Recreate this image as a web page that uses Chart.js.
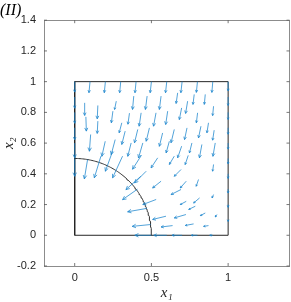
<!DOCTYPE html>
<html>
<head>
<meta charset="utf-8">
<script src="https://cdn.jsdelivr.net/npm/chart.js@4.4.1/dist/chart.umd.min.js"></script>
<style>
  html, body { margin: 0; padding: 0; background: #fff; }
</style>
</head>
<body>
<canvas id="quiverChart" width="291" height="302"></canvas>
<script>
// Arrows sitting on the edges of the unit square (tail x1, tail x2, components u, v)
const edgeX = [0, 0.1, 0.2, 0.3, 0.4, 0.5, 0.6, 0.7, 0.8, 0.9, 1,
  0, 0, 0, 0, 0,
  1, 1, 1, 1, 1, 1, 1, 1, 1,
  0.5, 0.6, 0.7, 0.8, 0.9];
const edgeY = [1, 1, 1, 1, 1, 1, 1, 1, 1, 1, 1,
  0.9, 0.8, 0.7, 0.6, 0.5,
  0.9, 0.8, 0.7, 0.6, 0.5, 0.4, 0.3, 0.2, 0.1,
  0, 0, 0, 0, 0];
const edgeU = [0, -0.007, -0.007, -0.007, -0.007, -0.008, -0.008, -0.008, -0.007, -0.006, 0,
  0, 0, 0, 0, 0,
  0, 0, 0, 0, 0, 0, 0, 0, 0,
  -0.108, -0.085, -0.066, -0.04, -0.02];
const edgeV = [-0.068, -0.072, -0.072, -0.072, -0.072, -0.072, -0.072, -0.072, -0.07, -0.07, -0.06,
  -0.073, -0.071, -0.078, -0.096, -0.116,
  -0.055, -0.046, -0.042, -0.039, -0.035, -0.03, -0.025, -0.018, -0.01,
  0, 0, 0, 0, 0];

// Arrows inside the domain
const fieldX = [0.065, 0.151, 0.271, 0.073, 0.151, 0.249, 0.307, 0.104, 0.199, 0.264,
  0.329, 0.385, 0.472, 0.563, 0.671, 0.357, 0.433, 0.530, 0.606, 0.697,
  0.411, 0.487, 0.573, 0.649, 0.368, 0.444, 0.617, 0.697, 0.779, 0.851,
  0.736, 0.905, 0.801, 0.872, 0.732, 0.823, 0.764, 0.829, 0.916, 0.909,
  0.740, 0.905, 0.807, 0.727, 0.905, 0.814, 0.727, 0.786, 0.851, 0.927,
  0.775, 0.872, 0.435, 0.541, 0.649, 0.466, 0.563, 0.693, 0.409, 0.531,
  0.693, 0.470, 0.595, 0.725, 0.495, 0.638, 0.084, 0.171, 0.247, 0.312,
  0.431];
const fieldY = [0.862, 0.845, 0.873, 0.771, 0.743, 0.808, 0.732, 0.656, 0.612, 0.623,
  0.678, 0.906, 0.906, 0.906, 0.927, 0.795, 0.797, 0.797, 0.808, 0.829,
  0.689, 0.699, 0.666, 0.689, 0.601, 0.601, 0.612, 0.580, 0.917, 0.917,
  0.873, 0.840, 0.797, 0.732, 0.699, 0.710, 0.601, 0.591, 0.601, 0.684,
  0.520, 0.461, 0.363, 0.352, 0.265, 0.243, 0.221, 0.189, 0.145, 0.135,
  0.074, 0.063, 0.521, 0.504, 0.515, 0.417, 0.352, 0.428, 0.300, 0.233,
  0.298, 0.175, 0.124, 0.135, 0.070, 0.063, 0.493, 0.515, 0.547, 0.515,
  0.384];
const fieldU = [0, -0.004, -0.011, 0.003, -0.004, -0.010, -0.017, -0.008, -0.022, -0.026,
  -0.022, -0.008, -0.011, -0.011, -0.010, -0.010, -0.013, -0.016, -0.013, -0.015,
  -0.021, -0.021, -0.021, -0.021, -0.022, -0.028, -0.021, -0.026, -0.008, -0.006,
  -0.013, -0.006, -0.008, -0.010, -0.016, -0.016, -0.016, -0.016, -0.015, -0.010,
  -0.020, -0.006, -0.015, -0.039, -0.010, -0.039, -0.039, -0.043, -0.032, -0.011,
  -0.054, -0.032, -0.058, -0.043, -0.032, -0.076, -0.055, -0.044, -0.097, -0.087,
  -0.065, -0.125, -0.087, -0.076, -0.120, -0.075, -0.021, -0.043, -0.047, -0.065,
  -0.097];
const fieldV = [-0.082, -0.087, -0.054, -0.093, -0.080, -0.076, -0.065, -0.109, -0.098, -0.098,
  -0.087, -0.087, -0.087, -0.087, -0.069, -0.072, -0.087, -0.087, -0.087, -0.076,
  -0.087, -0.087, -0.087, -0.087, -0.087, -0.098, -0.076, -0.076, -0.065, -0.065,
  -0.080, -0.061, -0.065, -0.065, -0.076, -0.076, -0.065, -0.087, -0.087, -0.065,
  -0.060, -0.044, -0.044, -0.044, -0.022, -0.033, -0.021, -0.021, -0.017, -0.016,
  -0.010, -0.005, -0.091, -0.065, -0.054, -0.076, -0.044, -0.044, -0.068, -0.033,
  -0.033, -0.022, -0.021, -0.022, -0.012, -0.009, -0.126, -0.141, -0.130, -0.141,
  -0.087];

// square outline and the quarter circle
const boxX = [0, 1, 1, 0, 0];
const boxY = [0, 0, 1, 1, 0];
const arcRadius = 0.5;

const xTickValues = [0, 0.5, 1];
const yTickValues = [-0.2, 0, 0.2, 0.4, 0.6, 0.8, 1, 1.2, 1.4];

const arrowsX = edgeX.concat(fieldX);
const arrowsY = edgeY.concat(fieldY);
const arrowsU = edgeU.concat(fieldU);
const arrowsV = edgeV.concat(fieldV);

const arcPoints = [];
for (let i = 0; i <= 90; i++) {
  const t = (i / 90) * Math.PI / 2;
  arcPoints.push({ x: arcRadius * Math.cos(t), y: arcRadius * Math.sin(t) });
}

const fmt = (v) => String(Math.round(v * 10) / 10);

// draws the quiver arrows with the chart scales
const quiverPlugin = {
  id: "quiver",
  afterDatasetsDraw(chart) {
    const { ctx, scales: { x, y } } = chart;
    ctx.save();
    ctx.strokeStyle = "#1a84cc";
    ctx.lineWidth = 0.75;
    for (let i = 0; i < arrowsX.length; i++) {
      const x0 = x.getPixelForValue(arrowsX[i]);
      const y0 = y.getPixelForValue(arrowsY[i]);
      const x1 = x.getPixelForValue(arrowsX[i] + arrowsU[i]);
      const y1 = y.getPixelForValue(arrowsY[i] + arrowsV[i]);
      const len = Math.hypot(x1 - x0, y1 - y0);
      if (len < 0.5) continue;
      const a = Math.atan2(y1 - y0, x1 - x0);
      const h = Math.min(4, Math.max(2, 0.25 * len));
      ctx.beginPath();
      ctx.moveTo(x0, y0);
      ctx.lineTo(x1, y1);
      ctx.moveTo(x1 - h * Math.cos(a - 0.45), y1 - h * Math.sin(a - 0.45));
      ctx.lineTo(x1, y1);
      ctx.lineTo(x1 - h * Math.cos(a + 0.45), y1 - h * Math.sin(a + 0.45));
      ctx.stroke();
    }
    ctx.restore();
  },
};

// MATLAB-like tick marks pointing into the axes box, on all four sides
const innerTicksPlugin = {
  id: "innerTicks",
  afterDraw(chart) {
    const { ctx, chartArea: a, scales: { x, y } } = chart;
    const len = 3;
    ctx.save();
    ctx.strokeStyle = "#555";
    ctx.lineWidth = 0.8;
    ctx.beginPath();
    xTickValues.forEach((v) => {
      const p = x.getPixelForValue(v);
      ctx.moveTo(p, a.bottom); ctx.lineTo(p, a.bottom - len);
      ctx.moveTo(p, a.top); ctx.lineTo(p, a.top + len);
    });
    yTickValues.forEach((v) => {
      const p = y.getPixelForValue(v);
      ctx.moveTo(a.left, p); ctx.lineTo(a.left + len, p);
      ctx.moveTo(a.right, p); ctx.lineTo(a.right - len, p);
    });
    ctx.stroke();
    ctx.restore();
  },
};

const tickFont = { family: "'Liberation Sans', Arial, sans-serif", size: 11 };
const mathFont = { family: "'Liberation Serif', 'DejaVu Serif', serif", size: 15, style: "italic" };
const axisColor = "#8c8c8c";

const ctx = document.getElementById("quiverChart").getContext("2d");
new Chart(ctx, {
  type: "scatter",
  data: {
    datasets: [
      {
        label: "box",
        data: boxX.map((v, i) => ({ x: v, y: boxY[i] })),
        showLine: true,
        borderColor: "#262626",
        borderWidth: 1,
        pointRadius: 0,
      },
      {
        label: "arc",
        data: arcPoints,
        showLine: true,
        borderColor: "#333",
        borderWidth: 1,
        pointRadius: 0,
      },
    ],
  },
  options: {
    responsive: false,
    animation: false,
    devicePixelRatio: 1,
    layout: { padding: { left: 0, right: 1.5, top: 0, bottom: 0 } },
    plugins: {
      legend: { display: false },
      tooltip: { enabled: false },
      title: {
        display: true,
        text: "(II)",
        align: "start",
        color: "#000",
        font: { family: "'Liberation Serif', 'DejaVu Serif', serif", size: 16, style: "italic", weight: "normal" },
        padding: { top: 1, bottom: 0 },
      },
    },
    scales: {
      x: {
        type: "linear",
        position: "bottom",
        min: -0.2,
        max: 1.4,
        grid: { display: false, drawTicks: false },
        border: { display: true, color: axisColor, width: 1 },
        afterBuildTicks: (s) => { s.ticks = xTickValues.map((v) => ({ value: v })); },
        afterFit: (s) => { s.height = 36; },
        ticks: { font: tickFont, color: "#262626", padding: 5, maxRotation: 0, autoSkip: false, callback: fmt },
        title: { display: true, text: "x₁", font: mathFont, color: "#262626", padding: 0 },
      },
      y: {
        type: "linear",
        position: "left",
        min: -0.2,
        max: 1.4,
        grid: { display: false, drawTicks: false },
        border: { display: true, color: axisColor, width: 1 },
        afterBuildTicks: (s) => { s.ticks = yTickValues.map((v) => ({ value: v })); },
        afterFit: (s) => { s.width = 44; },
        ticks: { font: tickFont, color: "#262626", padding: 8, autoSkip: false, callback: fmt },
        title: { display: true, text: "x₂", font: mathFont, color: "#262626", padding: 0 },
      },
      x2: {
        type: "linear",
        position: "top",
        min: -0.2,
        max: 1.4,
        grid: { display: false, drawTicks: false },
        border: { display: true, color: axisColor, width: 1 },
        ticks: { display: false },
        afterFit: (s) => { s.height = 0; },
      },
      y2: {
        type: "linear",
        position: "right",
        min: -0.2,
        max: 1.4,
        grid: { display: false, drawTicks: false },
        border: { display: true, color: axisColor, width: 1 },
        ticks: { display: false },
        afterFit: (s) => { s.width = 0; },
      },
    },
  },
  plugins: [quiverPlugin, innerTicksPlugin],
});
</script>
</body>
</html>
